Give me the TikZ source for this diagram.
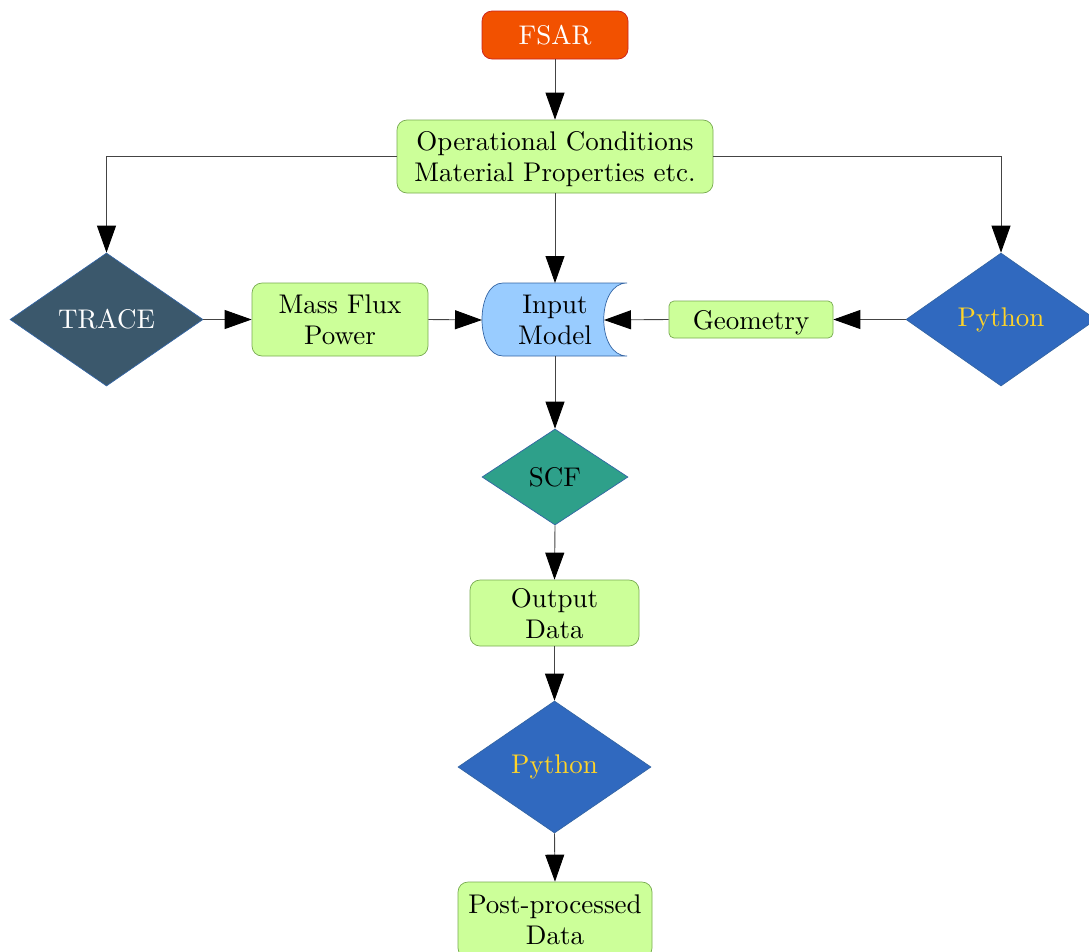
\documentclass[tikz,border=0pt]{standalone}
\usepackage{fontspec}
\setmainfont{lmroman10-regular.otf}
\usetikzlibrary{shapes.geometric,arrows.meta}
\definecolor{fsarfill}{HTML}{F25100}
\definecolor{fsarline}{HTML}{C9211E}
\definecolor{boxfill}{HTML}{CCFF99}
\definecolor{boxline}{HTML}{77AA50}
\definecolor{inputfill}{HTML}{99CCFF}
\definecolor{blueline}{HTML}{3465A4}
\definecolor{tracefill}{HTML}{3B586C}
\definecolor{pyfill}{HTML}{3069BF}
\definecolor{pytext}{HTML}{FFD428}
\definecolor{scffill}{HTML}{2EA08A}
\definecolor{connc}{HTML}{444444}
\begin{document}
\begin{tikzpicture}[x=1pt,y=-1pt,
  font=\fontsize{27}{31}\selectfont,
  box/.style={draw=boxline, fill=boxfill, rounded corners=10pt, align=center, inner sep=0pt, line width=0.7pt, text depth=0pt},
  dia/.style={diamond, draw=blueline, inner sep=0pt, line width=0.7pt},
  conn/.style={draw=connc, line width=0.9pt, -{Triangle[length=27pt,width=19pt,color=black]}}]
\useasboundingbox (0,0) rectangle (1089,951);
% nodes
\node[box, fill=fsarfill, draw=fsarline, text=white, minimum width=146pt, minimum height=48pt] (fsar) at (555,35) {FSAR};
\node[box, minimum width=316pt, minimum height=73pt] (op) at (555,156.5) {Operational Conditions\\Material Properties etc.};
\node[dia, fill=tracefill, text=white, minimum width=193pt, minimum height=133pt] (trace) at (106.5,319.5) {TRACE};
\node[box, minimum width=176pt, minimum height=73pt] (mf) at (340,319.5) {Mass Flux\\Power};
% input model (stored data shape)
\path[fill=inputfill, draw=blueline, line width=0.7pt]
  (503,283) -- (627,283) .. controls (596,283) and (596,356) .. (627,356)
  -- (503,356) .. controls (475,356) and (475,283) .. (503,283) -- cycle;
\node[align=center, inner sep=0pt] (inp) at (555,320) {Input\\Model};
\coordinate (inpL) at (482,320);
\coordinate (inpR) at (604,320);
\coordinate (inpT) at (555,283);
\coordinate (inpB) at (555,356);
\node[box, rounded corners=5pt, minimum width=164pt, minimum height=37pt] (geo) at (751,319.5) {Geometry};
\node[dia, fill=pyfill, text=pytext, minimum width=190pt, minimum height=133pt] (py1) at (1001,319.5) {Python};
\node[dia, fill=scffill, minimum width=146pt, minimum height=96pt] (scf) at (555,477) {SCF};
\node[box, minimum width=169pt, minimum height=66pt] (out) at (554.5,613) {Output\\Data};
\node[dia, fill=pyfill, text=pytext, minimum width=193pt, minimum height=132pt] (py2) at (554.5,767) {Python};
\node[box, minimum width=194pt, minimum height=76pt] (post) at (555,920) {Post-processed\\Data};
% connectors
\draw[conn] (fsar) -- (op);
\draw[conn] (op.west) -| (trace.north);
\draw[conn] (op.east) -| (py1.north);
\draw[conn] (op.south) -- (inpT);
\draw[conn] (trace.east) -- (mf.west);
\draw[conn] (mf.east) -- (inpL);
\draw[conn] (geo.west) -- (inpR);
\draw[conn] (py1.west) -- (geo.east);
\draw[conn] (inpB) -- (scf.north);
\draw[conn] (scf.south) -- (out.north);
\draw[conn] (out.south) -- (py2.north);
\draw[conn] (py2.south) -- (post.north);
\end{tikzpicture}
\end{document}
